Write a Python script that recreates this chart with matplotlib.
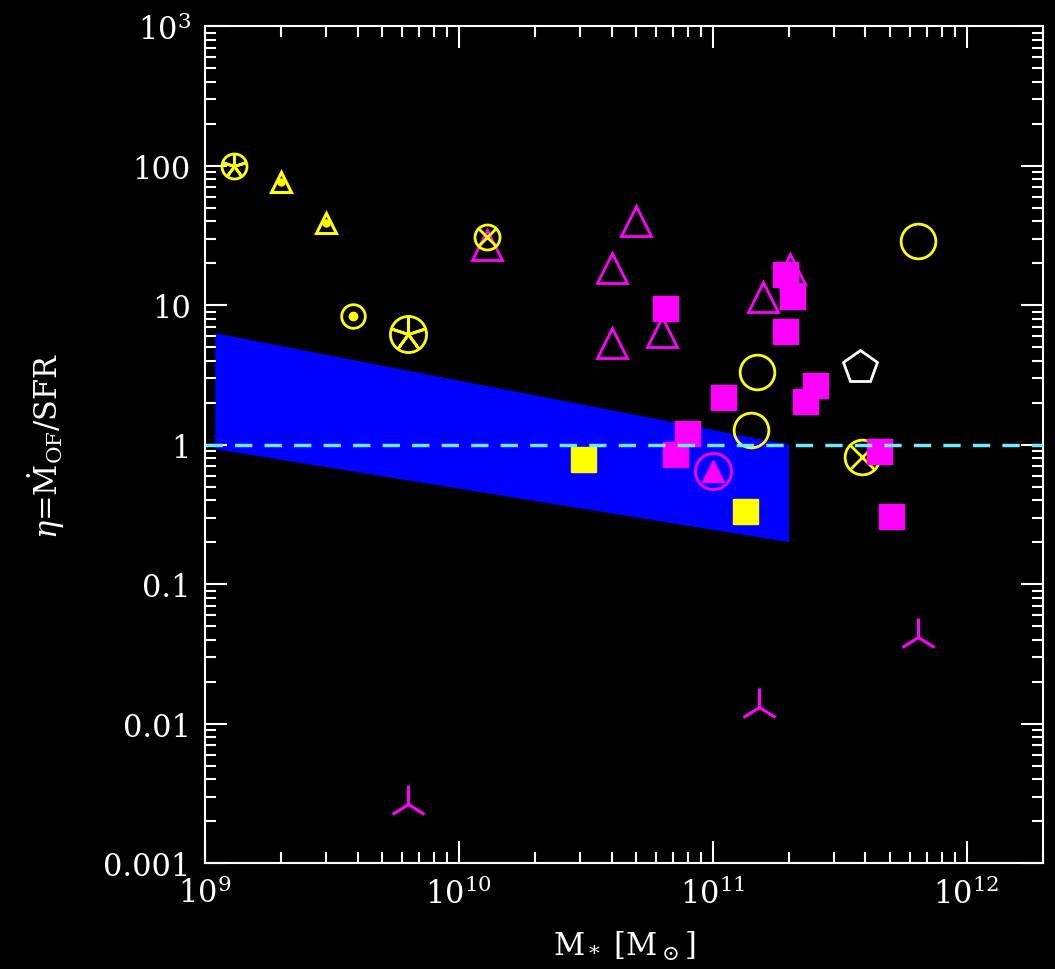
import numpy as np
import matplotlib.pyplot as plt
from matplotlib.ticker import FixedLocator, FixedFormatter, LogLocator, NullFormatter

plt.rcParams['font.family'] = 'DejaVu Serif'
plt.rcParams['mathtext.fontset'] = 'dejavuserif'

# band (shaded region)
band_x = [1.1e9, 2e11, 2e11, 1.1e9]
band_y = [6.3, 1.0, 0.2, 0.93]

# magenta filled squares
msq_x = [6.5e10, 1.93e11, 2.05e11, 1.92e11, 1.1e11, 2.54e11, 2.31e11, 7.9e10, 7.1e10, 4.53e11, 5.03e11]
msq_y = [9.6, 16.7, 11.7, 6.5, 2.2, 2.67, 2.06, 1.22, 0.855, 0.90, 0.31]

# magenta open triangles
mtri_x = [5.0e10, 4.0e10, 4.0e10, 6.3e10, 1.58e11, 2.02e11, 1.29e10]
mtri_y = [40, 18.6, 5.4, 6.4, 11.4, 18.1, 27]

# magenta upper limits
mlim_x = [6.3e9, 1.52e11, 6.45e11]
mlim_y = [0.00265, 0.0131, 0.042]

# magenta ringed filled triangle
mring_x = [1.0e11]
mring_y = [0.65]

# yellow filled squares
ysq_x = [3.1e10, 1.34e11]
ysq_y = [0.79, 0.333]

# yellow open circles
ycirc_x = [6.46e11, 1.5e11, 1.42e11]
ycirc_y = [29, 3.3, 1.27]

# yellow circles with spokes
ystar_x = [1.3e9, 6.3e9]
ystar_y = [100, 6.2]
ystar_s = [18, 26]

# yellow triangles with dot
ydtri_x = [2.0e9, 3.0e9]
ydtri_y = [76, 39]

# yellow circle with dot
ydot_x = [3.85e9]
ydot_y = [8.3]

# yellow circles with cross
ycross_x = [1.29e10, 3.88e11]
ycross_y = [30.7, 0.81]
ycross_s = [18, 25]

# white pentagon
wpent_x = [3.79e11]
wpent_y = [3.6]

ytick_vals = [1e-3, 1e-2, 1e-1, 1, 10, 100, 1000]
ytick_labels = ['0.001', '0.01', '0.1', '1', '10', '100', r'$10^3$']
xtick_vals = [1e9, 1e10, 1e11, 1e12]
xtick_labels = [r'$10^{9}$', r'$10^{10}$', r'$10^{11}$', r'$10^{12}$']

yel = '#ffff00'
mag = '#ff00ff'

fig = plt.figure(figsize=(10.55, 9.70), dpi=100, facecolor='black')
ax = fig.add_axes([0.194, 0.109, 0.7946, 0.863], facecolor='black')
ax.set_xscale('log')
ax.set_yscale('log')
ax.set_xlim(1e9, 2e12)
ax.set_ylim(1e-3, 1e3)

ax.fill(band_x, band_y, color='#0000ff', zorder=1, lw=0)

ax.plot(mtri_x, mtri_y, '^', ms=22, mfc='none', mec=mag, mew=2, ls='none', zorder=3)
ax.plot(ycirc_x, ycirc_y, 'o', ms=25, mfc='none', mec=yel, mew=2, ls='none', zorder=3)
for x, y, s in zip(ystar_x, ystar_y, ystar_s):
    ax.plot(x, y, 'o', ms=s, mfc='none', mec=yel, mew=2, zorder=3)
    ax.plot(x, y, marker=(5, 2, 0), ms=s, mec=yel, mew=2, zorder=3)
for x, y, s in zip(ycross_x, ycross_y, ycross_s):
    ax.plot(x, y, 'o', ms=s, mfc='none', mec=yel, mew=2, zorder=3)
    ax.plot(x, y, 'x', ms=s * 0.7, mec=yel, mew=2, zorder=3)
ax.plot(ydtri_x, ydtri_y, '^', ms=15, mfc='none', mec=yel, mew=2.2, ls='none', zorder=3)
ax.plot(ydtri_x, ydtri_y, 'o', ms=5, color=yel, ls='none', zorder=3)
ax.plot(ydot_x, ydot_y, 'o', ms=17, mfc='none', mec=yel, mew=2, ls='none', zorder=3)
ax.plot(ydot_x, ydot_y, 'o', ms=6, color=yel, ls='none', zorder=3)
ax.plot(wpent_x, wpent_y, 'p', ms=25, mfc='none', mec='white', mew=2, ls='none', zorder=3)
ax.plot(mring_x, mring_y, 'o', ms=26, mfc='none', mec=mag, mew=2, ls='none', zorder=3)
ax.plot(mring_x, mring_y, '^', ms=16, color=mag, ls='none', zorder=3)
ax.plot(ysq_x, ysq_y, 's', ms=18, color=yel, ls='none', zorder=4)
ax.plot(msq_x, msq_y, 's', ms=18, color=mag, ls='none', zorder=4)
ax.plot(mlim_x, mlim_y, '2', ms=28, mec=mag, mew=2.2, ls='none', zorder=4)

ax.axhline(1, color='#70e8ff', lw=2.5, ls=(0, (5, 3.5)), zorder=5)

for sp in ax.spines.values():
    sp.set_color('white')
    sp.set_linewidth(1.5)

ax.xaxis.set_major_locator(FixedLocator(xtick_vals))
ax.xaxis.set_major_formatter(FixedFormatter(xtick_labels))
ax.yaxis.set_major_locator(FixedLocator(ytick_vals))
ax.yaxis.set_major_formatter(FixedFormatter(ytick_labels))
ax.xaxis.set_minor_locator(LogLocator(base=10, subs=np.arange(2, 10), numticks=20))
ax.yaxis.set_minor_locator(LogLocator(base=10, subs=np.arange(2, 10), numticks=20))
ax.xaxis.set_minor_formatter(NullFormatter())
ax.yaxis.set_minor_formatter(NullFormatter())

ax.tick_params(which='both', direction='in', top=True, right=True, colors='white', width=1.5)
ax.tick_params(which='major', length=16, labelsize=22, pad=10)
ax.tick_params(which='minor', length=8)

ax.set_xlabel(r'M$_*$ [M$_\odot$]', color='white', fontsize=22, labelpad=14)
ax.set_ylabel(r'$\eta$=$\dot{\rm M}_{\rm OF}$/SFR', color='white', fontsize=22, labelpad=26)

fig.savefig('out.png', dpi=100, facecolor='black')
